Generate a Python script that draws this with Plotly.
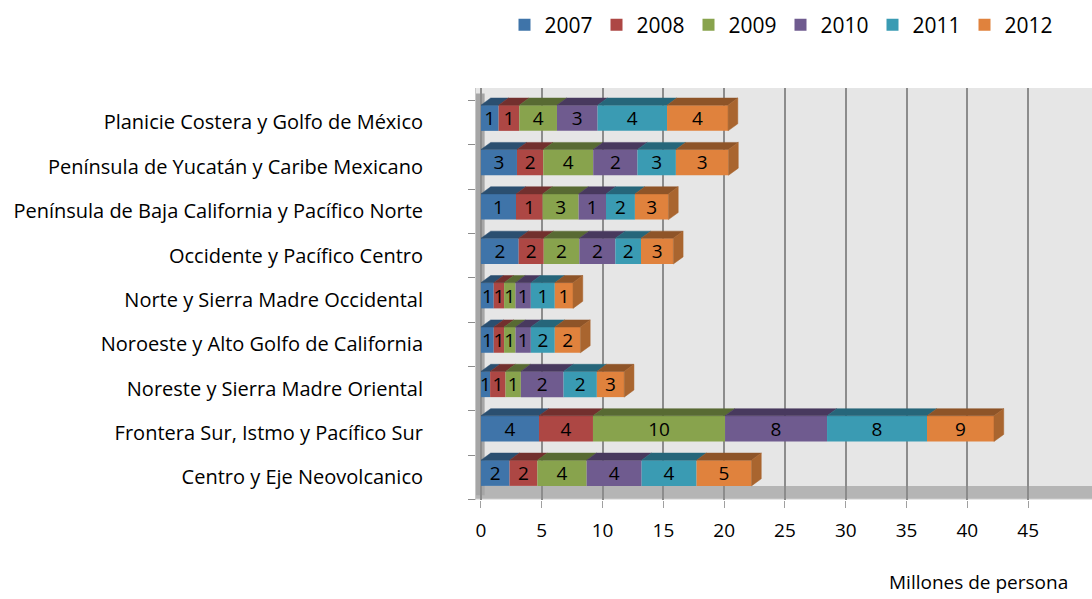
import plotly.graph_objects as go

regiones = [
    'Planicie Costera y Golfo de México',
    'Península de Yucatán y Caribe Mexicano',
    'Península de Baja California y Pacífico Norte',
    'Occidente y Pacífico Centro',
    'Norte y Sierra Madre Occidental',
    'Noroeste y Alto Golfo de California',
    'Noreste y Sierra Madre Oriental',
    'Frontera Sur, Istmo y Pacífico Sur',
    'Centro y Eje Neovolcanico',
]
anios = ['2007', '2008', '2009', '2010', '2011', '2012']

# longitud de cada tramo leída sobre el eje (millones de personas)
v2007 = [1.45, 2.96, 2.88, 3.10, 1.05, 1.05, 0.75, 4.77, 2.35]
v2008 = [1.70, 2.16, 2.19, 2.06, 0.85, 0.85, 1.27, 4.44, 2.29]
v2009 = [3.10, 4.11, 2.96, 2.93, 0.94, 0.94, 1.26, 10.86, 4.05]
v2010 = [3.34, 3.64, 2.25, 2.96, 1.26, 1.26, 3.51, 8.39, 4.52]
v2011 = [5.71, 3.16, 2.38, 2.11, 1.97, 1.97, 2.74, 8.22, 4.52]
v2012 = [5.02, 4.33, 2.76, 2.66, 1.50, 2.11, 2.25, 5.51, 4.52]

# etiquetas de datos tal como aparecen en el gráfico
e2007 = [1, 3, 1, 2, 1, 1, 1, 4, 2]
e2008 = [1, 2, 1, 2, 1, 1, 1, 4, 2]
e2009 = [4, 4, 3, 2, 1, 1, 1, 10, 4]
e2010 = [3, 2, 1, 2, 1, 1, 2, 8, 4]
e2011 = [4, 3, 2, 2, 1, 2, 2, 8, 4]
e2012 = [4, 3, 3, 3, 1, 2, 3, 9, 5]

valores = [v2007, v2008, v2009, v2010, v2011, v2012]
etiquetas = [e2007, e2008, e2009, e2010, e2011, e2012]

frente = ['#3F74A9', '#AD4744', '#88A34D', '#6F5B8F', '#3A9BB3', '#E0823D']
arriba = ['#2B4F70', '#72302E', '#586A33', '#48395E', '#26667A', '#8E5428']
lado = '#A9652F'

FONT = 'Open Sans'
n = len(regiones)
ypos = [n - 1 - i for i in range(n)]
H = 0.29   # media altura de la cara frontal (filas)
DX = 0.8   # profundidad en x (unidades del eje)
DY = 0.16  # profundidad en y (filas)

fig = go.Figure()

base = [0.0] * n
for k, anio in enumerate(anios):
    vals = valores[k]
    fig.add_trace(go.Bar(
        name=anio, orientation='h', y=ypos, x=vals, base=list(base),
        width=2 * H, marker=dict(color=frente[k], line=dict(width=0)),
        text=[str(e) for e in etiquetas[k]], textposition='inside',
        insidetextanchor='middle', textangle=0,
        textfont=dict(family=FONT, size=19, color='black'),
    ))
    # cara superior (paralelogramo)
    xs, ys = [], []
    for i in range(n):
        a, b, y = base[i], base[i] + vals[i], ypos[i]
        xs += [a, b, b + DX, a + DX, a, None]
        ys += [y + H, y + H, y + H + DY, y + H + DY, y + H, None]
    fig.add_trace(go.Scatter(
        x=xs, y=ys, mode='lines', fill='toself', fillcolor=arriba[k],
        line=dict(width=0.5, color=arriba[k]), showlegend=False, hoverinfo='skip',
    ))
    base = [base[i] + vals[i] for i in range(n)]

# cara lateral del último tramo
xs, ys = [], []
for i in range(n):
    t, y = base[i], ypos[i]
    xs += [t, t + DX, t + DX, t, t, None]
    ys += [y - H, y - H + DY, y + H + DY, y + H, y - H, None]
fig.add_trace(go.Scatter(
    x=xs, y=ys, mode='lines', fill='toself', fillcolor=lado,
    line=dict(width=0.5, color=lado), showlegend=False, hoverinfo='skip',
))

# suelo y pared izquierda
fig.add_shape(type='rect', xref='paper', x0=0, x1=1, yref='y', y0=-0.58, y1=-0.29,
              fillcolor='#B5B5B5', line=dict(width=0), layer='below')
fig.add_shape(type='rect', xref='x', x0=-0.41, x1=0.3, yref='y', y0=-0.5, y1=8.55,
              fillcolor='#A6A6A6', line=dict(width=0), layer='below')

fig.add_annotation(text='Millones de persona', xref='paper', yref='paper',
                   x=(887 - 476) / 616, y=-0.2, xanchor='left', yanchor='middle',
                   showarrow=False, font=dict(family=FONT, size=19, color='black'))

fig.update_layout(
    width=1092, height=599,
    barmode='overlay',
    margin=dict(l=476, r=0, t=88, b=99, autoexpand=False),
    paper_bgcolor='white', plot_bgcolor='#E6E6E6',
    font=dict(family=FONT, size=19, color='black'),
    uniformtext=dict(minsize=19, mode='show'),
    showlegend=True,
    legend=dict(orientation='h', xref='container', yref='container',
                x=0.462, y=0.958, xanchor='left', yanchor='middle',
                entrywidth=47, font=dict(family=FONT, size=21), traceorder='normal'),
    xaxis=dict(range=[-0.41, 50.25], tickmode='array', tickvals=list(range(0, 50, 5)),
               showgrid=True, gridcolor='#8C8C8C', gridwidth=2, zeroline=False,
               ticks='outside', ticklen=7, tickcolor='#A0A0A0',
               ticklabelstandoff=6, showline=False),
    yaxis=dict(range=[-0.608, 8.676], tickmode='array',
               tickvals=[y - 0.1 for y in ypos], ticktext=regiones,
               tickfont=dict(family=FONT, size=20),
               showgrid=False, zeroline=False, ticks='', ticklabelstandoff=48,
               showline=True, linecolor='#C8C8C8', linewidth=1,
               minor=dict(tick0=0.4, dtick=1, ticks='outside', ticklen=7,
                          tickcolor='#8C8C8C', showgrid=False)),
)

fig.write_html('out.html', config={'displayModeBar': False},
               post_script="document.body.style.margin='0';")
